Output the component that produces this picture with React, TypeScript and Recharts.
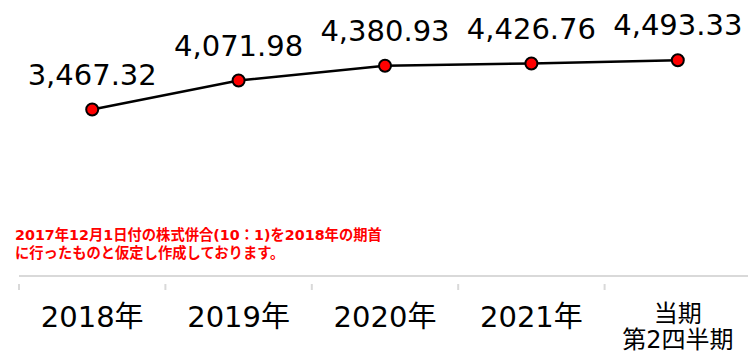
import React from "react";
import { LineChart, Line, XAxis, YAxis, LabelList } from "recharts";

const categories = ["2018年", "2019年", "2020年", "2021年", "当期\n第2四半期"];
const values = [3467.32, 4071.98, 4380.93, 4426.76, 4493.33];
const noteLines = [
  "2017年12月1日付の株式併合(10：1)を2018年の期首",
  "に行ったものと仮定し作成しております。",
];

const data = categories.map((name, i) => ({ name, value: values[i] }));

const W = 752;
const H = 353;
const M = { top: 60, right: 1, bottom: 0, left: 19 };
const BAND = (W - M.left - M.right) / categories.length;
const FONT = '"DejaVu Sans", "Noto Sans CJK JP", sans-serif';

function fmt(v: number) {
  return v.toLocaleString("en-US", { minimumFractionDigits: 2, maximumFractionDigits: 2 });
}

function Tick(props: any) {
  const { x, y, payload } = props;
  const lines = String(payload.value).split("\n");
  const multi = lines.length > 1;
  return (
    <g>
      <line x1={x - BAND / 2} x2={x - BAND / 2} y1={y} y2={y + 6} stroke="#d9d9d9" strokeWidth={2} />
      <text
        x={x}
        y={multi ? y + 38 : y + 43}
        textAnchor="middle"
        fill="#000"
        fontFamily={FONT}
        fontSize={multi ? 24 : 29}
      >
        {lines.map((l, i) => (
          <tspan key={i} x={x} dy={i === 0 ? 0 : 26}>
            {l}
          </tspan>
        ))}
      </text>
    </g>
  );
}

function ValueLabel(props: any) {
  const { x, y, value } = props;
  return (
    <text x={x} y={y - 25} textAnchor="middle" fill="#000" fontFamily={FONT} fontSize={29}>
      {fmt(value)}
    </text>
  );
}

export default function App() {
  return (
    <div style={{ position: "absolute", left: 0, top: 0, width: 748, height: H, overflow: "hidden", background: "#fff" }}>
      <LineChart width={W} height={H} data={data} margin={M}>
        <XAxis
          dataKey="name"
          scale="band"
          height={77}
          axisLine={{ stroke: "#d9d9d9", strokeWidth: 2 }}
          tickLine={false}
          tick={<Tick />}
          interval={0}
        />
        <YAxis hide domain={[0, 4500]} />
        <Line
          dataKey="value"
          stroke="#000"
          strokeWidth={2.5}
          dot={{ r: 6, fill: "#ff0000", stroke: "#000", strokeWidth: 2 }}
          isAnimationActive={false}
        >
          <LabelList dataKey="value" content={<ValueLabel />} />
        </Line>
      </LineChart>
      <div
        style={{
          position: "absolute",
          left: 15,
          top: 226,
          color: "#ff0000",
          fontFamily: FONT,
          fontWeight: "bold",
          fontSize: 14.3,
          lineHeight: "18px",
          whiteSpace: "nowrap",
        }}
      >
        {noteLines.map((l, i) => (
          <div key={i}>{l}</div>
        ))}
      </div>
    </div>
  );
}
